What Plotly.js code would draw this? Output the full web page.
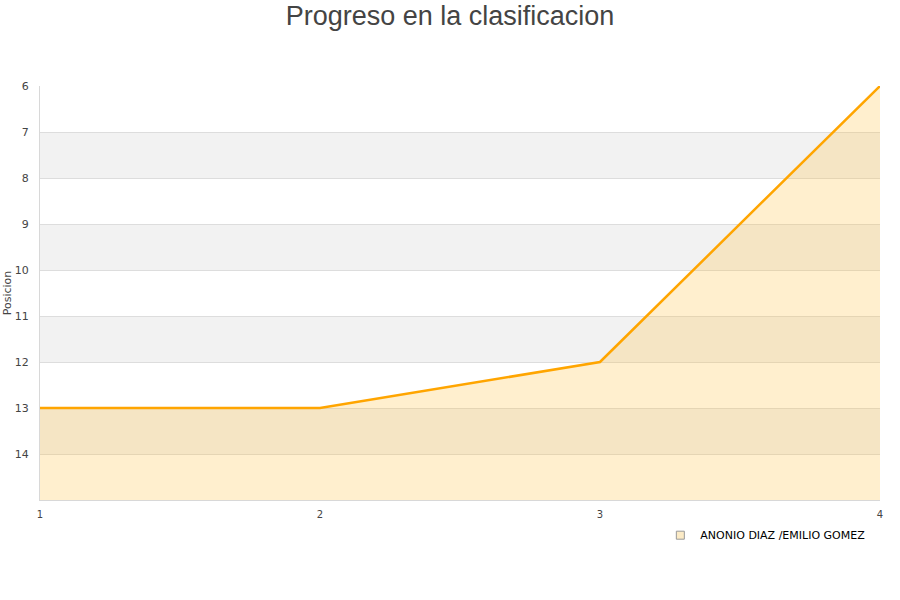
<!DOCTYPE html>
<html><head><meta charset="utf-8">
<script src="https://cdn.plot.ly/plotly-3.0.1.min.js"></script>
<style>html,body{margin:0;padding:0;background:#fff}#chart{width:900px;height:600px}</style>
</head><body><div id="chart"></div>
<script>
const jornadas = [1, 2, 3, 4];
const posiciones = [13, 13, 12, 6];
const seriesName = "ANONIO DIAZ /EMILIO GOMEZ";
const yTicks = [6, 7, 8, 9, 10, 11, 12, 13, 14];
const bandStarts = [7, 9, 11, 13];
const yBottom = 15;

const baseline = jornadas.map(() => yBottom);
const shapes = bandStarts.map(b => ({
  type: 'rect', xref: 'paper', yref: 'y', x0: 0, x1: 1, y0: b, y1: b + 1,
  fillcolor: '#f2f2f2', line: {width: 0}, layer: 'below'
}));

const traces = [
  {x: jornadas, y: baseline, mode: 'lines', line: {width: 0}, showlegend: false, hoverinfo: 'skip'},
  {x: jornadas, y: posiciones, mode: 'lines', fill: 'tonexty', fillcolor: 'rgba(255,190,60,0.25)',
   line: {color: '#FFA500', width: 2.5}, showlegend: false, name: seriesName},
  {x: [null], y: [null], mode: 'markers', name: seriesName,
   marker: {symbol: 'square', size: 8, color: '#FCEBC6', line: {color: '#999', width: 1}}}
];

const layout = {
  width: 900, height: 600,
  margin: {l: 40, r: 20, t: 86, b: 100},
  paper_bgcolor: '#fff', plot_bgcolor: '#fff',
  title: {text: 'Progreso en la clasificacion', x: 0.5, xanchor: 'center', y: 0.99, yanchor: 'top',
          font: {family: 'Liberation Sans, Arial, sans-serif', size: 27, color: '#444'}},
  font: {family: 'DejaVu Sans, sans-serif', size: 11, color: '#444'},
  xaxis: {range: [1, 4], tickvals: jornadas, ticktext: jornadas.map(String), showgrid: false,
          zeroline: false, showline: true, linecolor: '#d8d8d8', linewidth: 1, ticks: '',
          tickfont: {size: 10, color: '#444'}, ticklabelstandoff: 5},
  yaxis: {range: [yBottom, 6], tickvals: yTicks, ticktext: yTicks.map(String), showgrid: true,
          gridcolor: '#dddddd', zeroline: false, showline: true, linecolor: '#d8d8d8', ticks: '',
          tickfont: {size: 11, color: '#444'}, ticklabelstandoff: 8,
          title: {text: 'Posicion', font: {size: 11, color: '#444'}, standoff: 0}},
  shapes: shapes,
  showlegend: true,
  legend: {x: 0.7385, y: -0.05, xanchor: 'left', yanchor: 'top', orientation: 'h',
           font: {family: 'DejaVu Sans, sans-serif', size: 11, color: '#000'}, bgcolor: 'rgba(0,0,0,0)'}
};

Plotly.newPlot('chart', traces, layout, {displayModeBar: false, staticPlot: true});
</script></body></html>
